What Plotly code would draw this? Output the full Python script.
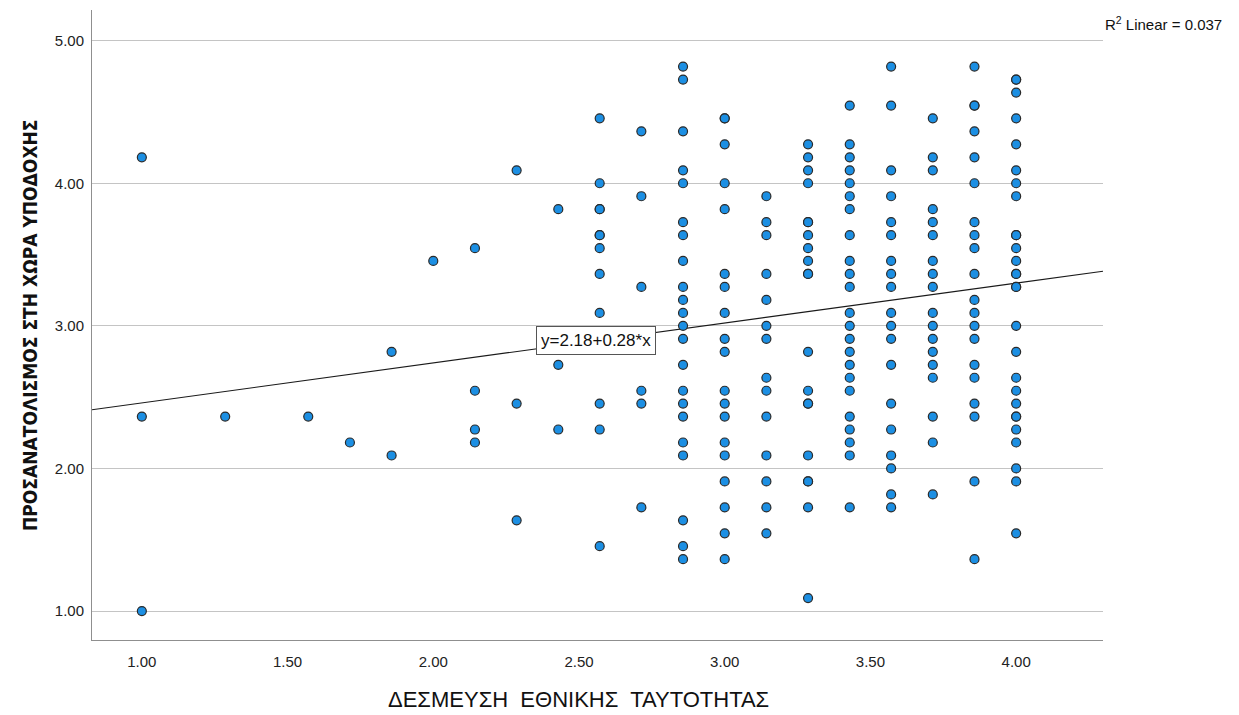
import plotly.graph_objects as go

# Distinct levels of the x variable (mean of 7 items) and the y values observed in each column
x_levels = [1.000, 1.286, 1.571, 1.714, 1.857, 2.000, 2.143, 2.286, 2.429, 2.571,
            2.714, 2.857, 3.000, 3.143, 3.286, 3.429, 3.571, 3.714, 3.857, 4.000]

y_at_1_000 = [4.182, 2.364, 1.000]
y_at_1_286 = [2.364]
y_at_1_571 = [2.364]
y_at_1_714 = [2.182]
y_at_1_857 = [2.818, 2.091]
y_at_2_000 = [3.455]
y_at_2_143 = [3.545, 2.545, 2.273, 2.182]
y_at_2_286 = [4.091, 2.455, 1.636]
y_at_2_429 = [3.818, 2.727, 2.273]
y_at_2_571 = [4.455, 4.000, 3.818, 3.818, 3.636, 3.636, 3.545, 3.364, 3.091, 2.455, 2.273, 1.455]
y_at_2_714 = [4.364, 3.909, 3.273, 2.545, 2.455, 1.727]
y_at_2_857 = [4.818, 4.727, 4.364, 4.091, 4.000, 3.727, 3.636, 3.455, 3.273, 3.182, 3.091,
              3.000, 2.909, 2.727, 2.545, 2.455, 2.364, 2.182, 2.091, 1.636, 1.455, 1.364]
y_at_3_000 = [4.455, 4.455, 4.273, 4.000, 3.818, 3.364, 3.273, 3.091, 2.909, 2.818, 2.545,
              2.455, 2.364, 2.182, 2.091, 1.909, 1.727, 1.545, 1.364]
y_at_3_143 = [3.909, 3.727, 3.636, 3.364, 3.182, 3.000, 2.909, 2.636, 2.545, 2.364, 2.091,
              1.909, 1.727, 1.545]
y_at_3_286 = [4.273, 4.182, 4.091, 4.000, 3.727, 3.727, 3.636, 3.545, 3.455, 3.364, 3.364,
              2.818, 2.545, 2.455, 2.455, 2.091, 1.909, 1.909, 1.727, 1.091]
y_at_3_429 = [4.545, 4.273, 4.182, 4.091, 4.000, 3.909, 3.818, 3.636, 3.455, 3.364, 3.273,
              3.091, 3.000, 2.909, 2.818, 2.727, 2.636, 2.545, 2.364, 2.273, 2.182, 2.091, 1.727]
y_at_3_571 = [4.818, 4.545, 4.091, 3.909, 3.727, 3.636, 3.455, 3.364, 3.273, 3.091, 3.000,
              2.909, 2.727, 2.455, 2.273, 2.091, 2.000, 1.818, 1.727]
y_at_3_714 = [4.455, 4.182, 4.091, 3.818, 3.727, 3.636, 3.455, 3.364, 3.273, 3.091, 3.000,
              2.909, 2.818, 2.727, 2.636, 2.364, 2.182, 1.818]
y_at_3_857 = [4.818, 4.545, 4.545, 4.364, 4.182, 4.000, 3.727, 3.636, 3.545, 3.364, 3.182,
              3.091, 3.000, 2.909, 2.727, 2.636, 2.455, 2.364, 1.909, 1.364]
y_at_4_000 = [4.727, 4.727, 4.636, 4.455, 4.273, 4.091, 4.000, 3.909, 3.636, 3.636, 3.545,
              3.455, 3.364, 3.364, 3.273, 3.273, 3.000, 2.818, 2.636, 2.545, 2.455, 2.364,
              2.364, 2.273, 2.182, 2.000, 1.909, 1.545]

y_columns = [y_at_1_000, y_at_1_286, y_at_1_571, y_at_1_714, y_at_1_857, y_at_2_000,
             y_at_2_143, y_at_2_286, y_at_2_429, y_at_2_571, y_at_2_714, y_at_2_857,
             y_at_3_000, y_at_3_143, y_at_3_286, y_at_3_429, y_at_3_571, y_at_3_714,
             y_at_3_857, y_at_4_000]

# Fit line shown on the chart
fit_intercept = 2.18
fit_slope = 0.28
fit_label = "y=2.18+0.28*x"
r2_label = "R<sup>2</sup> Linear = 0.037"

x_tick_vals = [1.0, 1.5, 2.0, 2.5, 3.0, 3.5, 4.0]
x_tick_text = ["1.00", "1.50", "2.00", "2.50", "3.00", "3.50", "4.00"]
y_tick_vals = [1.0, 2.0, 3.0, 4.0, 5.0]
y_tick_text = ["1.00", "2.00", "3.00", "4.00", "5.00"]

x_title = "ΔΕΣΜΕΥΣΗ  ΕΘΝΙΚΗΣ  ΤΑΥΤΟΤΗΤΑΣ"
y_title = "ΠΡΟΣΑΝΑΤΟΛΙΣΜΟΣ ΣΤΗ ΧΩΡΑ ΥΠΟΔΟΧΗΣ"

x_range = [0.829, 4.298]
y_range = [0.797, 5.215]

# ---- build point arrays
xs, ys = [], []
for xv, col in zip(x_levels, y_columns):
    for yv in col:
        xs.append(xv)
        ys.append(yv)

fig = go.Figure()

fit_x = [x_range[0], x_range[1]]
fit_y = [fit_intercept + fit_slope * v for v in fit_x]
fig.add_trace(go.Scatter(x=fit_x, y=fit_y, mode="lines",
                         line=dict(color="#1a1a1a", width=1.1),
                         hoverinfo="skip", showlegend=False, cliponaxis=True))

fig.add_trace(go.Scatter(x=xs, y=ys, mode="markers",
                         marker=dict(size=9, color="#1c8fe3",
                                     line=dict(color="#2a2a2a", width=1.2)),
                         showlegend=False))

base_font = "Liberation Sans, Arial, sans-serif"

label_x = 2.56
fig.add_annotation(x=label_x, y=fit_intercept + fit_slope * label_x, xref="x", yref="y",
                   text=fit_label, showarrow=False,
                   font=dict(family=base_font, size=17, color="#111111"),
                   bgcolor="white", bordercolor="#555555", borderwidth=1, borderpad=4)

fig.add_annotation(x=1.0, y=0.979, xref="paper", yref="paper", xanchor="left",
                   yanchor="middle", text=r2_label, showarrow=False,
                   font=dict(family=base_font, size=15, color="#111111"))

fig.add_annotation(x=-0.0613, y=0.5, xref="paper", yref="paper", xanchor="center",
                   yanchor="middle", text="<b>" + y_title + "</b>", textangle=-90,
                   showarrow=False,
                   font=dict(family="DejaVu Sans Condensed, Liberation Sans, sans-serif",
                             size=19, color="#111111"))

fig.add_annotation(x=0.4817, y=-0.0952, xref="paper", yref="paper", xanchor="center",
                   yanchor="middle", text=x_title, showarrow=False,
                   font=dict(family=base_font, size=22, color="#111111"))

fig.update_layout(
    width=1239, height=715,
    margin=dict(l=92, r=136, t=10, b=75),
    paper_bgcolor="white", plot_bgcolor="white",
    font=dict(family=base_font, size=15, color="#222222"),
    xaxis=dict(range=x_range, tickvals=x_tick_vals, ticktext=x_tick_text,
               showgrid=False, zeroline=False, showline=True, linecolor="#8f8f8f",
               linewidth=1, ticks="", ticklabelstandoff=8),
    yaxis=dict(range=y_range, tickvals=y_tick_vals, ticktext=y_tick_text,
               showgrid=True, gridcolor="#c4c4c4", gridwidth=1, zeroline=False,
               showline=True, linecolor="#8f8f8f", linewidth=1, ticks="",
               ticklabelstandoff=4),
)

fig.write_html("out.html",
               config={"displayModeBar": False},
               post_script="document.body.style.margin='0px';"
                           "document.body.style.overflow='hidden';")
